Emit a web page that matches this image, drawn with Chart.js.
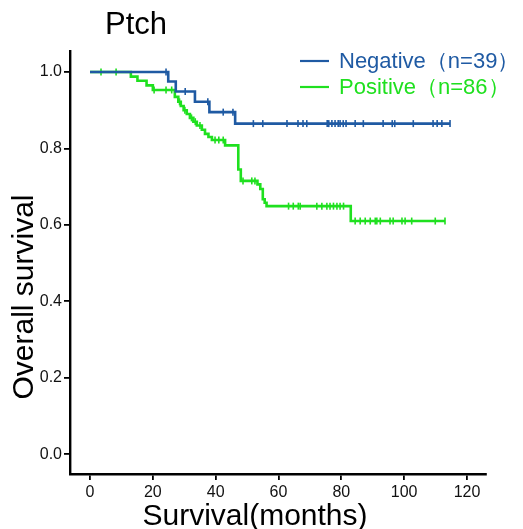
<!DOCTYPE html>
<html>
<head>
<meta charset="utf-8">
<script src="https://cdn.jsdelivr.net/npm/chart.js@4"></script>
<style>
  body { margin: 0; background: #fff; }
</style>
</head>
<body>
<canvas id="km" width="523" height="529"></canvas>
<script>
// Kaplan-Meier curves (months, survival after each drop)
const negTimes = [0, 24.9, 27.3, 33.4, 38, 46.2, 114.6];
const negSurv = [1.0, 0.975, 0.949, 0.922, 0.895, 0.865, 0.865];
const negCensor = [24.2, 30.3, 37.5, 42.4, 45.5, 52, 55, 62.7, 66.2, 67.8, 69, 75.5, 76, 77, 78, 79, 79.6,
  80.6, 81.5, 84.4, 87, 93.3, 96.2, 97, 102.9, 109.2, 110.5, 112, 114.6];

const posTimes = [0, 13, 15.1, 18, 20, 27, 28.1, 28.9, 29.8, 30.8, 31.8, 32.9, 34, 35.6, 36.6, 37.7, 38.8,
  43, 47.2, 48, 53.3, 54.2, 55, 55.6, 56.2, 83, 113];
const posSurv = [1.0, 0.988, 0.977, 0.965, 0.953, 0.935, 0.922, 0.911, 0.900, 0.890, 0.880, 0.870, 0.860,
  0.849, 0.838, 0.830, 0.822, 0.808, 0.745, 0.715, 0.706, 0.694, 0.667, 0.658, 0.649, 0.610, 0.610];
const posCensor = [3.5, 8.3, 20.4, 24.2, 26, 28.5, 30.2, 32.3, 33.5, 35, 39.8, 41, 42.4, 48.7, 51.5, 52.5,
  63.2, 64.7, 66.3, 66.9, 72.2, 73.8, 75.4, 76.4, 77.5, 78.6, 79.6, 80.7, 84.4, 86, 87.6, 89.2, 90.8, 91.3,
  92.4, 95.5, 96.5, 99.3, 100.3, 102.4, 109.9, 113];

const xTickValues = [0, 20, 40, 60, 80, 100, 120];
const yTickValues = [0, 0.2, 0.4, 0.6, 0.8, 1.0];

const negColor = '#1f5aa3';
const posColor = '#1fe01f';
const FONT = '"Liberation Sans", Arial, sans-serif';

// survival value of a step curve at time t (for placing censor marks)
function survAt(times, surv, t) {
  let s = surv[0];
  for (let i = 0; i < times.length; i++) {
    if (times[i] <= t) s = surv[i];
  }
  return s;
}

const negLine = negTimes.map((t, i) => ({x: t, y: negSurv[i]}));
const posLine = posTimes.map((t, i) => ({x: t, y: posSurv[i]}));
const negMarks = negCensor.map(t => ({x: t, y: survAt(negTimes, negSurv, t)}));
const posMarks = posCensor.map(t => ({x: t, y: survAt(posTimes, posSurv, t)}));

const extraText = {
  id: 'extraText',
  afterDraw(chart) {
    const ctx = chart.ctx;
    ctx.save();
    ctx.fillStyle = '#000';
    ctx.textAlign = 'left';
    ctx.textBaseline = 'alphabetic';
    ctx.font = '31px ' + FONT;
    ctx.fillText('Ptch', 105, 34);

    ctx.font = '30px ' + FONT;
    ctx.textAlign = 'center';
    ctx.fillText('Survival(months)', 255, 525);

    ctx.save();
    ctx.translate(33, 297);
    ctx.rotate(-Math.PI / 2);
    ctx.font = '30px ' + FONT;
    ctx.fillText('Overall survival', 0, 0);
    ctx.restore();

    // legend
    const items = [chart.data.datasets[0], chart.data.datasets[1]];
    items.forEach((ds, i) => {
      const y = 61 + i * 26;
      ctx.strokeStyle = ds.borderColor;
      ctx.lineWidth = 2.2;
      ctx.beginPath();
      ctx.moveTo(300, y);
      ctx.lineTo(329, y);
      ctx.stroke();
      ctx.fillStyle = ds.borderColor;
      ctx.font = '22px ' + FONT;
      ctx.textAlign = 'left';
      ctx.textBaseline = 'middle';
      ctx.fillText(ds.label, 339, y + 1);
    });
    ctx.restore();
  }
};

new Chart(document.getElementById('km'), {
  type: 'line',
  data: {
    datasets: [
      {
        label: 'Negative（n=39）',
        data: negLine,
        borderColor: negColor,
        borderWidth: 2.6,
        stepped: 'before',
        pointRadius: 0,
        fill: false
      },
      {
        label: 'Positive（n=86）',
        data: posLine,
        borderColor: posColor,
        borderWidth: 2.6,
        stepped: 'before',
        pointRadius: 0,
        fill: false,
        order: 1
      },
      {
        type: 'scatter',
        data: negMarks,
        showLine: false,
        pointStyle: 'line',
        rotation: 90,
        pointRadius: 3.5,
        borderColor: negColor,
        borderWidth: 1.6
      },
      {
        type: 'scatter',
        data: posMarks,
        showLine: false,
        pointStyle: 'line',
        rotation: 90,
        pointRadius: 3.5,
        borderColor: posColor,
        borderWidth: 1.6
      }
    ]
  },
  options: {
    responsive: false,
    animation: false,
    layout: {padding: {left: 0, top: 51, right: 37, bottom: 0}},
    plugins: {
      legend: {display: false},
      title: {display: false},
      tooltip: {enabled: false}
    },
    scales: {
      x: {
        type: 'linear',
        min: -6.37,
        max: 126.05,
        afterFit(scale) { scale.height = 55; },
        afterBuildTicks(scale) { scale.ticks = xTickValues.map(v => ({value: v})); },
        border: {color: '#000', width: 2.4},
        grid: {display: true, drawOnChartArea: false, drawTicks: true, tickLength: 6, color: '#000', lineWidth: 1.8},
        ticks: {
          color: '#111',
          font: {family: FONT, size: 16},
          padding: 3,
          maxRotation: 0,
          autoSkip: false
        }
      },
      y: {
        type: 'linear',
        min: -0.052,
        max: 1.055,
        afterFit(scale) { scale.width = 70; },
        afterBuildTicks(scale) { scale.ticks = yTickValues.map(v => ({value: v})); },
        border: {color: '#000', width: 2.4},
        grid: {display: true, drawOnChartArea: false, drawTicks: true, tickLength: 6, color: '#000', lineWidth: 1.8},
        ticks: {
          color: '#111',
          font: {family: FONT, size: 16},
          padding: 2,
          autoSkip: false,
          callback: v => v.toFixed(1)
        }
      }
    }
  },
  plugins: [extraText]
});
</script>
</body>
</html>
